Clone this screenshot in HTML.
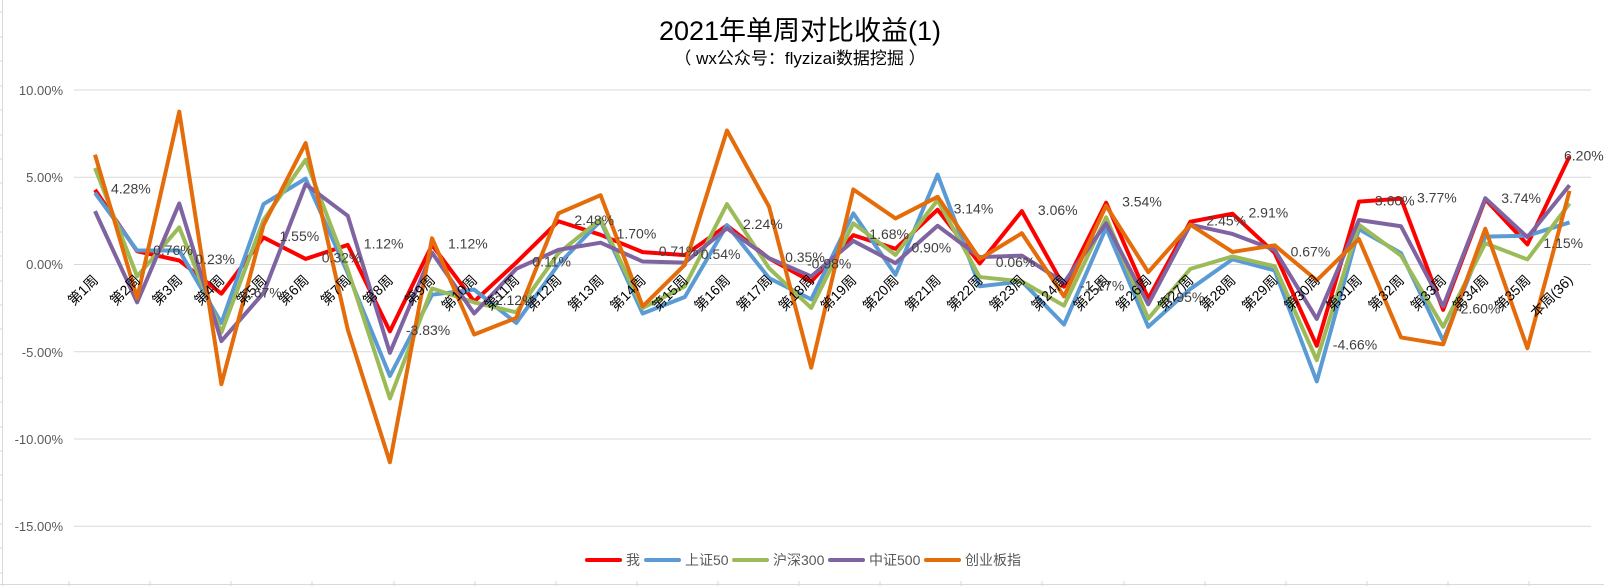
<!DOCTYPE html>
<html><head><meta charset="utf-8"><style>
html,body{margin:0;padding:0;background:#fff;}
svg{display:block;font-family:"Liberation Sans","Noto Sans CJK SC",sans-serif;}
.ax{font-size:13px;fill:#595959;}
.cat{font-size:14px;fill:#000;}
.dl{font-size:14px;fill:#404040;}
.lg{font-size:14px;fill:#595959;}
</style></head><body>
<svg width="1604" height="586" viewBox="0 0 1604 586" xmlns="http://www.w3.org/2000/svg">
<rect width="1604" height="586" fill="#fff"/>
<!-- outer left / bottom lines -->
<line x1="2.5" y1="0" x2="2.5" y2="586" stroke="#d9d9d9" stroke-width="1"/>
<g stroke="#d9d9d9" stroke-width="1">
<line x1="0" y1="12" x2="2.5" y2="12"/><line x1="0" y1="37" x2="2.5" y2="37"/><line x1="0" y1="61" x2="2.5" y2="61"/><line x1="0" y1="86" x2="2.5" y2="86"/><line x1="0" y1="110" x2="2.5" y2="110"/><line x1="0" y1="135" x2="2.5" y2="135"/><line x1="0" y1="159" x2="2.5" y2="159"/><line x1="0" y1="183" x2="2.5" y2="183"/><line x1="0" y1="208" x2="2.5" y2="208"/><line x1="0" y1="232" x2="2.5" y2="232"/><line x1="0" y1="256" x2="2.5" y2="256"/><line x1="0" y1="281" x2="2.5" y2="281"/><line x1="0" y1="305" x2="2.5" y2="305"/><line x1="0" y1="329" x2="2.5" y2="329"/><line x1="0" y1="354" x2="2.5" y2="354"/><line x1="0" y1="378" x2="2.5" y2="378"/><line x1="0" y1="402" x2="2.5" y2="402"/><line x1="0" y1="427" x2="2.5" y2="427"/><line x1="0" y1="451" x2="2.5" y2="451"/><line x1="0" y1="475" x2="2.5" y2="475"/><line x1="0" y1="500" x2="2.5" y2="500"/><line x1="0" y1="524" x2="2.5" y2="524"/><line x1="0" y1="548" x2="2.5" y2="548"/><line x1="0" y1="573" x2="2.5" y2="573"/>
</g>
<line x1="0" y1="584.5" x2="1604" y2="584.5" stroke="#d9d9d9"/>
<g stroke="#d9d9d9">
<line x1="69" y1="581" x2="69" y2="586"/><line x1="150" y1="581" x2="150" y2="586"/><line x1="231" y1="581" x2="231" y2="586"/><line x1="312" y1="581" x2="312" y2="586"/><line x1="394" y1="581" x2="394" y2="586"/><line x1="475" y1="581" x2="475" y2="586"/><line x1="556" y1="581" x2="556" y2="586"/><line x1="637" y1="581" x2="637" y2="586"/><line x1="718" y1="581" x2="718" y2="586"/><line x1="799" y1="581" x2="799" y2="586"/><line x1="880" y1="581" x2="880" y2="586"/><line x1="961" y1="581" x2="961" y2="586"/><line x1="1042" y1="581" x2="1042" y2="586"/><line x1="1124" y1="581" x2="1124" y2="586"/><line x1="1205" y1="581" x2="1205" y2="586"/><line x1="1286" y1="581" x2="1286" y2="586"/><line x1="1367" y1="581" x2="1367" y2="586"/><line x1="1448" y1="581" x2="1448" y2="586"/><line x1="1529" y1="581" x2="1529" y2="586"/>
</g>

<!-- title -->
<text x="800" y="40" text-anchor="middle" font-size="27" fill="#000">2021年单周对比收益(1)</text>
<text x="800" y="64" text-anchor="middle" font-size="17" fill="#000">（ wx公众号：flyzizai数据挖掘 ）</text>

<!-- gridlines -->
<g stroke="#d9d9d9" stroke-width="1">
<line x1="74" y1="90" x2="1591" y2="90"/>
<line x1="74" y1="177.3" x2="1591" y2="177.3"/>
<line x1="74" y1="264.5" x2="1591" y2="264.5"/>
<line x1="74" y1="351.8" x2="1591" y2="351.8"/>
<line x1="74" y1="439" x2="1591" y2="439"/>
<line x1="74" y1="526.3" x2="1591" y2="526.3"/>
</g>
<g class="ax" text-anchor="end">
<text x="63" y="95">10.00%</text>
<text x="63" y="182">5.00%</text>
<text x="63" y="269">0.00%</text>
<text x="63" y="357">-5.00%</text>
<text x="63" y="444">-10.00%</text>
<text x="63" y="531">-15.00%</text>
</g>

<!-- series -->
<g transform="translate(95,264.5) scale(42.13,-17.45)" fill="none" stroke-width="4" stroke-linejoin="round">
<polyline vector-effect="non-scaling-stroke" stroke="#ff0000" points="0,4.28 1,0.76 2,0.23 3,-1.67 4,1.55 5,0.32 6,1.12 7,-3.83 8,1.12 9,-2.12 10,0.11 11,2.48 12,1.70 13,0.71 14,0.54 15,2.24 16,0.35 17,-0.98 18,1.68 19,0.90 20,3.14 21,0.06 22,3.06 23,-1.27 24,3.54 25,-1.95 26,2.45 27,2.91 28,0.67 29,-4.66 30,3.60 31,3.77 32,-2.60 33,3.74 34,1.15 35,6.20"/>
<polyline vector-effect="non-scaling-stroke" stroke="#5b9bd5" points="0,4.1 1,0.8 2,0.8 3,-3.35 4,3.46 5,4.92 6,-0.5 7,-6.39 8,-1.73 9,-1.44 10,-3.35 11,0.0 12,2.5 13,-2.81 14,-1.86 15,2.26 16,-0.78 17,-2.0 18,2.93 19,-0.59 20,5.15 21,-1.25 22,-0.97 23,-3.44 24,2.1 25,-3.57 26,-1.4 27,0.3 28,-0.34 29,-6.7 30,2.03 31,0.65 32,-4.37 33,1.6 34,1.65 35,2.41"/>
<polyline vector-effect="non-scaling-stroke" stroke="#9bbb59" points="0,5.53 1,-0.68 2,2.13 3,-3.9 4,2.55 5,6.0 6,-0.3 7,-7.68 8,-1.37 9,-2.17 10,-2.74 11,0.65 12,2.59 13,-2.49 14,-1.25 15,3.46 16,-0.21 17,-2.49 18,2.36 19,0.55 20,3.69 21,-0.72 22,-0.97 23,-2.36 24,2.7 25,-3.1 26,-0.25 27,0.46 28,-0.1 29,-5.48 30,2.28 31,0.51 32,-3.57 33,1.22 34,0.29 35,3.5"/>
<polyline vector-effect="non-scaling-stroke" stroke="#8064a2" points="0,3.06 1,-2.17 2,3.5 3,-4.39 4,-1.63 5,4.6 6,2.79 7,-5.06 8,0.68 9,-2.81 10,-0.25 11,0.84 12,1.25 13,0.17 14,0.11 15,2.07 16,0.36 17,-0.68 18,1.35 19,0.08 20,2.22 21,0.42 22,0.51 23,-1.03 24,2.36 25,-2.28 26,2.28 27,1.75 28,0.84 29,-3.12 30,2.55 31,2.19 32,-2.4 33,3.8 34,1.56 35,4.54"/>
<polyline vector-effect="non-scaling-stroke" stroke="#e46c0a" points="0,6.29 1,-1.92 2,8.76 3,-6.86 4,2.26 5,6.96 6,-3.73 7,-11.33 8,1.5 9,-4.01 10,-3.06 11,2.93 12,3.97 13,-2.4 14,-0.02 15,7.68 16,3.31 17,-5.91 18,4.3 19,2.64 20,3.88 21,0.32 22,1.79 23,-1.83 24,3.37 25,-0.44 26,2.28 27,0.72 28,1.1 29,-0.91 30,1.46 31,-4.18 32,-4.58 33,2.05 34,-4.8 35,4.22"/>
</g>

<!-- category labels -->
<g class="cat" text-anchor="end">
<text transform="translate(99,281) rotate(-45)">第1周</text>
<text transform="translate(141.1,281) rotate(-45)">第2周</text>
<text transform="translate(183.3,281) rotate(-45)">第3周</text>
<text transform="translate(225.4,281) rotate(-45)">第4周</text>
<text transform="translate(267.5,281) rotate(-45)">第5周</text>
<text transform="translate(309.7,281) rotate(-45)">第6周</text>
<text transform="translate(351.8,281) rotate(-45)">第7周</text>
<text transform="translate(393.9,281) rotate(-45)">第8周</text>
<text transform="translate(436,281) rotate(-45)">第9周</text>
<text transform="translate(478.2,281) rotate(-45)">第10周</text>
<text transform="translate(520.3,281) rotate(-45)">第11周</text>
<text transform="translate(562.4,281) rotate(-45)">第12周</text>
<text transform="translate(604.6,281) rotate(-45)">第13周</text>
<text transform="translate(646.7,281) rotate(-45)">第14周</text>
<text transform="translate(688.8,281) rotate(-45)">第15周</text>
<text transform="translate(731,281) rotate(-45)">第16周</text>
<text transform="translate(773.1,281) rotate(-45)">第17周</text>
<text transform="translate(815.2,281) rotate(-45)">第18周</text>
<text transform="translate(857.3,281) rotate(-45)">第19周</text>
<text transform="translate(899.5,281) rotate(-45)">第20周</text>
<text transform="translate(941.6,281) rotate(-45)">第21周</text>
<text transform="translate(983.7,281) rotate(-45)">第22周</text>
<text transform="translate(1025.9,281) rotate(-45)">第23周</text>
<text transform="translate(1068,281) rotate(-45)">第24周</text>
<text transform="translate(1110.1,281) rotate(-45)">第25周</text>
<text transform="translate(1152.3,281) rotate(-45)">第26周</text>
<text transform="translate(1194.4,281) rotate(-45)">第27周</text>
<text transform="translate(1236.5,281) rotate(-45)">第28周</text>
<text transform="translate(1278.6,281) rotate(-45)">第29周</text>
<text transform="translate(1320.8,281) rotate(-45)">第30周</text>
<text transform="translate(1362.9,281) rotate(-45)">第31周</text>
<text transform="translate(1405,281) rotate(-45)">第32周</text>
<text transform="translate(1447.2,281) rotate(-45)">第33周</text>
<text transform="translate(1489.3,281) rotate(-45)">第34周</text>
<text transform="translate(1531.4,281) rotate(-45)">第35周</text>
<text transform="translate(1573.6,281) rotate(-45)">本周(36)</text>
</g>

<!-- data labels -->
<g class="dl" dominant-baseline="middle">
<text x="111" y="189.8">4.28%</text>
<text x="153.1" y="251.2">0.76%</text>
<text x="195.3" y="260.5">0.23%</text>
<text x="237.4" y="293.6">-1.67%</text>
<text x="279.5" y="237.4">1.55%</text>
<text x="321.7" y="258.9">0.32%</text>
<text x="363.8" y="245">1.12%</text>
<text x="405.9" y="331.3">-3.83%</text>
<text x="448" y="245">1.12%</text>
<text x="490.2" y="301.5">-2.12%</text>
<text x="532.3" y="262.6">0.11%</text>
<text x="574.4" y="221.2">2.48%</text>
<text x="616.6" y="234.8">1.70%</text>
<text x="658.7" y="252.1">0.71%</text>
<text x="700.8" y="255.1">0.54%</text>
<text x="743" y="225.4">2.24%</text>
<text x="785.1" y="258.4">0.35%</text>
<text x="807" y="265">-0.98%</text>
<text x="869.3" y="235.2">1.68%</text>
<text x="911.5" y="248.8">0.90%</text>
<text x="953.6" y="209.7">3.14%</text>
<text x="995.7" y="263.5">0.06%</text>
<text x="1037.9" y="211.1">3.06%</text>
<text x="1080" y="286.7">-1.27%</text>
<text x="1122.1" y="202.7">3.54%</text>
<text x="1160" y="298.5">-1.95%</text>
<text x="1206.4" y="221.7">2.45%</text>
<text x="1248.5" y="213.7">2.91%</text>
<text x="1290.6" y="252.8">0.67%</text>
<text x="1332.8" y="345.8">-4.66%</text>
<text x="1374.9" y="201.7">3.60%</text>
<text x="1417" y="198.7">3.77%</text>
<text x="1456" y="309.9">-2.60%</text>
<text x="1501.3" y="199.2">3.74%</text>
<text x="1543.4" y="244.4">1.15%</text>
<text x="1564" y="157">6.20%</text>
</g>

<!-- legend -->
<g stroke-width="4" stroke-linecap="round">
<line x1="587" y1="560" x2="620" y2="560" stroke="#ff0000"/>
<line x1="646" y1="560" x2="679" y2="560" stroke="#5b9bd5"/>
<line x1="734" y1="560" x2="767" y2="560" stroke="#9bbb59"/>
<line x1="830" y1="560" x2="863" y2="560" stroke="#8064a2"/>
<line x1="926" y1="560" x2="959" y2="560" stroke="#e46c0a"/>
</g>
<g class="lg">
<text x="626" y="565">我</text>
<text x="685" y="565">上证50</text>
<text x="773" y="565">沪深300</text>
<text x="869" y="565">中证500</text>
<text x="965" y="565">创业板指</text>
</g>
</svg>
</body></html>
